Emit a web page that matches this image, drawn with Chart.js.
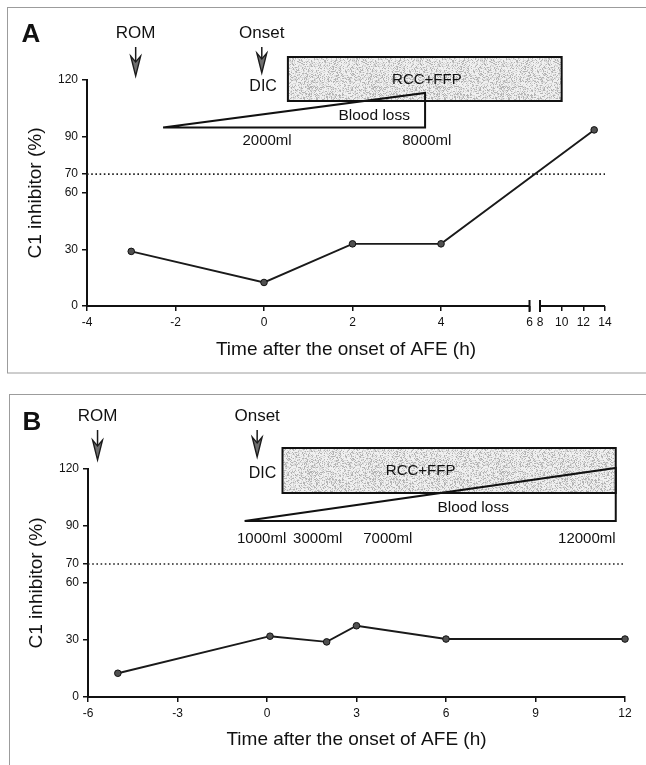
<!DOCTYPE html>
<html><head><meta charset="utf-8">
<script src="https://cdn.jsdelivr.net/npm/chart.js@4.4.1/dist/chart.umd.min.js"></script>
<style>
html,body{margin:0;padding:0;background:#fff;}
#wrap{position:relative;width:646px;height:765px;overflow:hidden;background:#fff;}
.pnl{position:absolute;left:0;width:646px;}
#pa{top:0;height:385px;}
#pb{top:385px;height:380px;}
canvas{display:block;}
</style></head><body>
<div id="wrap">
<div class="pnl" id="pa"><canvas id="ca" width="646" height="385"></canvas></div>
<div class="pnl" id="pb"><canvas id="cb" width="646" height="380"></canvas></div>
</div>
<script>
// ---------- data ----------
const timeA = [-3, 0, 2, 4, 13];
const c1A = [29, 12.5, 33, 33, 93.5];
const timeB = [-5, 0.1, 2, 3, 6, 12];
const c1B = [12.5, 32, 29, 37.5, 30.5, 30.5];
const yTicks = [0, 30, 60, 70, 90, 120];
const xTicksA = [-4, -2, 0, 2, 4, 6, 8, 10, 12, 14];
const xTicksB = [-6, -3, 0, 3, 6, 9, 12];
const threshold = 70;
const bloodLossA = ['2000ml', '8000ml'];
const bloodLossB = ['1000ml', '3000ml', '7000ml', '12000ml'];

const FONT = "'Liberation Sans', Arial, Helvetica, sans-serif";
const INK = '#111';
Chart.defaults.font.family = FONT;
Chart.defaults.color = INK;

// broken x axis of panel A: 6 -> 8 gap, compressed right part
const BREAK_LO = 6, BREAK_HI = 8, GAP = 0.237, RATIO = 0.2448;
function tA(h) { return h <= BREAK_LO ? h : BREAK_LO + GAP + (h - BREAK_HI) * RATIO; }
function tId(h) { return h; }

function speckle(ctx) {
  const n = 64, c = document.createElement('canvas');
  c.width = c.height = n;
  const g = c.getContext('2d');
  const img = g.createImageData(n, n);
  for (let y = 0; y < n; y++) for (let x = 0; x < n; x++) {
    let h = (Math.imul(x, 374761393) + Math.imul(y, 668265263)) | 0;
    h = Math.imul(h ^ (h >>> 13), 1274126177);
    h = (h ^ (h >>> 16)) & 255;
    const s = h < 55 ? 180 : h < 125 ? 216 : 240;
    const k = (y * n + x) * 4;
    img.data[k] = img.data[k + 1] = img.data[k + 2] = s;
    img.data[k + 3] = 255;
  }
  g.putImageData(img, 0, 0);
  return ctx.createPattern(c, 'repeat');
}

function txt(ctx, s, x, y, size, bold) {
  ctx.font = (bold ? 'bold ' : '') + size + 'px ' + FONT;
  ctx.fillStyle = INK;
  ctx.textAlign = 'center';
  ctx.textBaseline = 'middle';
  ctx.fillText(s, x, y);
}
function arrow(ctx, x, y0, y1) {
  ctx.strokeStyle = '#1a1a1a';
  ctx.lineWidth = 1.5;
  ctx.beginPath(); ctx.moveTo(x, y0); ctx.lineTo(x, y1 - 14); ctx.stroke();
  ctx.beginPath();
  ctx.moveTo(x, y1);
  ctx.lineTo(x - 5, y1 - 20);
  ctx.lineTo(x, y1 - 14);
  ctx.lineTo(x + 5, y1 - 20);
  ctx.closePath();
  ctx.fillStyle = '#6e6e6e';
  ctx.fill();
  ctx.lineWidth = 1.3;
  ctx.stroke();
}

const annot = {
  id: 'annot',
  beforeDraw(chart, args, o) {
    const ctx = chart.ctx;
    ctx.save();
    ctx.strokeStyle = '#9c9c9c';
    ctx.lineWidth = 1;
    ctx.strokeRect(o.frame[0], o.frame[1], o.frame[2], o.frame[3]);
    ctx.restore();
  },
  afterDraw(chart, args, o) {
    const ctx = chart.ctx;
    const xs = chart.scales.x;
    const px = h => xs.getPixelForValue(o.tx(h));
    ctx.save();
    txt(ctx, o.letter, o.letterPos[0], o.letterPos[1], 26, true);
    txt(ctx, 'ROM', px(o.rom.h), o.rom.textY, 17);
    arrow(ctx, px(o.rom.h), o.rom.y0, o.rom.y1);
    txt(ctx, 'Onset', px(o.onset.h), o.onset.textY, 17);
    arrow(ctx, px(o.onset.h), o.onset.y0, o.onset.y1);
    txt(ctx, 'DIC', px(o.dic.h), o.dic.y, 16);
    const bx0 = px(o.box.h0), bx1 = px(o.box.h1);
    ctx.fillStyle = speckle(ctx);
    ctx.fillRect(bx0, o.box.y0, bx1 - bx0, o.box.y1 - o.box.y0);
    ctx.strokeStyle = '#111';
    ctx.lineWidth = 2;
    ctx.strokeRect(bx0, o.box.y0, bx1 - bx0, o.box.y1 - o.box.y0);
    txt(ctx, 'RCC+FFP', px(o.box.labelH), o.box.labelY, 15);
    const tx0 = px(o.tri.h0), tx1 = px(o.tri.h1);
    ctx.beginPath();
    ctx.moveTo(tx0, o.tri.yBot);
    ctx.lineTo(tx1, o.tri.yTop);
    ctx.lineTo(tx1, o.tri.yBot);
    ctx.closePath();
    ctx.strokeStyle = '#111';
    ctx.lineWidth = 2;
    ctx.lineJoin = 'miter';
    ctx.stroke();
    txt(ctx, 'Blood loss', px(o.tri.labelH), o.tri.labelY, 15.5);
    o.loss.labels.forEach((s, i) => txt(ctx, s, px(o.loss.hours[i]), o.loss.y, 15));
    if (o.broken) {
      const y = chart.chartArea.bottom;
      ctx.strokeStyle = '#111';
      ctx.lineWidth = 2;
      ctx.lineCap = 'butt';
      ctx.beginPath();
      ctx.moveTo(px(o.xTicks[0]) - 1, y); ctx.lineTo(px(o.broken.lo), y);
      ctx.moveTo(px(o.broken.hi), y); ctx.lineTo(px(o.xTicks[o.xTicks.length - 1]), y);
      ctx.moveTo(px(o.broken.lo), y - 6); ctx.lineTo(px(o.broken.lo), y + 6);
      ctx.moveTo(px(o.broken.hi), y - 6); ctx.lineTo(px(o.broken.hi), y + 6);
      ctx.stroke();
    }
    ctx.restore();
  }
};

function makeChart(p) {
  const tickGrid = { display: true, drawOnChartArea: false, drawTicks: true, tickLength: 5, color: '#111', lineWidth: 1.5 };
  const pts = p.times.map((t, i) => ({ x: p.tx(t), y: p.values[i] }));
  return new Chart(document.getElementById(p.canvas), {
    type: 'line',
    data: {
      datasets: [
        {
          data: pts, borderColor: '#1a1a1a', borderWidth: 1.9, tension: 0,
          pointRadius: 3.3, pointBackgroundColor: '#505050', pointBorderColor: '#111', pointBorderWidth: 1,
          clip: false
        },
        {
          data: [{ x: p.xmin, y: threshold }, { x: p.xmax, y: threshold }],
          borderColor: '#222', borderWidth: 1.6, borderDash: [1.6, 2.6], pointRadius: 0, tension: 0
        }
      ]
    },
    options: {
      responsive: false, animation: false, events: [],
      layout: { padding: { left: 0, top: p.pad.top, right: p.pad.right, bottom: 0 } },
      plugins: { legend: { display: false }, tooltip: { enabled: false }, annot: p },
      scales: {
        x: {
          type: 'linear', min: p.xmin, max: p.xmax, bounds: 'data',
          afterBuildTicks: s => { s.ticks = p.xTicks.map(v => ({ value: p.tx(v) })); },
          afterFit: s => { s.height = p.xHeight; },
          ticks: {
            autoSkip: false, maxRotation: 0, padding: p.xTickPad, font: { size: 12 }, color: INK,
            callback: (v, i) => String(p.xTicks[i])
          },
          grid: tickGrid,
          border: { display: !p.broken, color: '#111', width: 2 },
          title: { display: true, text: 'Time after the onset of AFE (h)', font: { size: 19 }, color: INK,
                   padding: { top: 0, bottom: p.xTitlePad } }
        },
        y: {
          type: 'linear', min: 0, max: 120, bounds: 'data',
          afterBuildTicks: s => { s.ticks = yTicks.map(v => ({ value: v })); },
          afterFit: s => { s.width = p.yWidth; },
          ticks: { autoSkip: false, padding: 4, font: { size: 12 }, color: INK },
          grid: tickGrid,
          border: { display: true, color: '#111', width: 2 },
          title: { display: true, text: 'C1 inhibitor (%)', font: { size: 19 }, color: INK,
                   padding: { top: p.yTitlePad, bottom: 0 } }
        }
      }
    },
    plugins: [annot]
  });
}

const panelA = {
  canvas: 'ca', letter: 'A', letterPos: [31, 35],
  times: timeA, values: c1A, xTicks: xTicksA, tx: tA,
  xmin: -4, xmax: tA(14),
  pad: { top: 80, right: 41 }, yWidth: 87, xHeight: 79,
  yTitlePad: 24.1, xTitlePad: 23.6, xTickPad: 4.5,
  frame: [7.5, 7.5, 700, 365.5],
  broken: { lo: BREAK_LO, hi: BREAK_HI },
  rom: { h: -2.9, textY: 33.5, y0: 47, y1: 76 },
  onset: { h: -0.05, textY: 33.5, y0: 47, y1: 73 },
  dic: { h: -0.02, y: 87 },
  box: { h0: 0.54, h1: 10.0, y0: 57, y1: 101, labelH: 3.68, labelY: 80 },
  tri: { h0: -2.28, h1: 3.64, yTop: 93, yBot: 127.5, labelH: 2.49, labelY: 116 },
  loss: { labels: bloodLossA, hours: [0.07, 3.68], y: 141 }
};
const panelB = {
  canvas: 'cb', letter: 'B', letterPos: [32, 38],
  times: timeB, values: c1B, xTicks: xTicksB, tx: tId,
  xmin: -6, xmax: 12,
  pad: { top: 84, right: 21 }, yWidth: 88, xHeight: 68,
  yTitlePad: 25.6, xTitlePad: 13.6, xTickPad: 4,
  frame: [9.5, 9.5, 700, 400],
  broken: null,
  rom: { h: -5.68, textY: 31, y0: 45, y1: 75 },
  onset: { h: -0.33, textY: 31, y0: 45, y1: 72 },
  dic: { h: -0.15, y: 89 },
  box: { h0: 0.52, h1: 11.69, y0: 63, y1: 108, labelH: 5.15, labelY: 86 },
  tri: { h0: -0.75, h1: 11.69, yTop: 83, yBot: 136, labelH: 6.91, labelY: 123 },
  loss: { labels: bloodLossB, hours: [-0.18, 1.70, 4.05, 10.72], y: 154 }
};

makeChart(panelA);
makeChart(panelB);
</script>
</body></html>
